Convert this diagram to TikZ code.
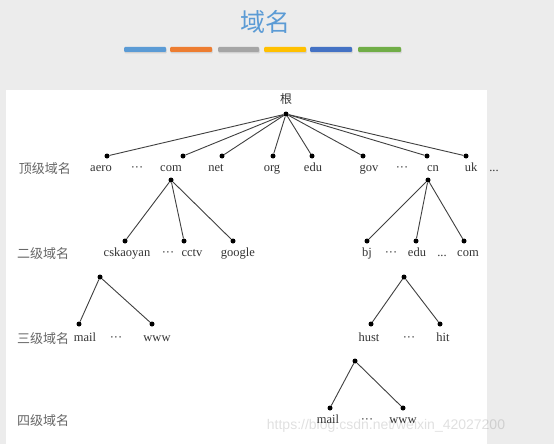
\documentclass[tikz,border=0pt]{standalone}
\usepackage{fontspec}
\setmainfont{Liberation Serif}
\newfontfamily\cjk{Noto Sans CJK SC}
\newfontfamily\wmfont{Liberation Sans}
\definecolor{tblue}{HTML}{5B9BD5}
\definecolor{borange}{HTML}{ED7D31}
\definecolor{bgray}{HTML}{A5A5A5}
\definecolor{byellow}{HTML}{FFC000}
\definecolor{bdblue}{HTML}{4472C4}
\definecolor{bgreen}{HTML}{70AD47}
\definecolor{pagebg}{HTML}{ECECEC}
\begin{document}
\begin{tikzpicture}[x=1pt,y=-1pt,
  dot/.style={circle,fill=black,inner sep=0pt,minimum size=5pt},
  lab/.style={font=\fontsize{12.5}{12.5}\selectfont, text=black!80, inner sep=0pt, text height=6.5pt, text depth=2.5pt},
  lvl/.style={font=\cjk\fontsize{13}{13}\selectfont, text=black!60, inner sep=0pt},
  edge/.style={draw=black!75, line width=0.9pt},
  bar/.style={rounded corners=1pt}]
\useasboundingbox (0,0) rectangle (554,444);
\fill[pagebg] (0,0) rectangle (554,444);
\fill[white] (6,90) rectangle (487,444);
% title
\node[font=\cjk\fontsize{25}{25}\selectfont, text=tblue, inner sep=0pt] (title) at (265,22) {域名};
\foreach \a/\b in {124/166,170/212,218/259,264/306,310/352,358/401}
  \fill[bar, black!18] (\a+0.5,48.5) rectangle (\b+0.5,53.5);
\fill[bar, tblue]   (124,47) rectangle (166,52);
\fill[bar, borange] (170,47) rectangle (212,52);
\fill[bar, bgray]   (218,47) rectangle (259,52);
\fill[bar, byellow] (264,47) rectangle (306,52);
\fill[bar, bdblue]  (310,47) rectangle (352,52);
\fill[bar, bgreen]  (358,47) rectangle (401,52);
% level labels
\node[lvl] (l1) at (45,169) {顶级域名};
\node[lvl] (l2) at (43,254) {二级域名};
\node[lvl] (l3) at (43,339) {三级域名};
\node[lvl] (l4) at (43,421) {四级域名};
% root
\node[font=\cjk\fontsize{12}{12}\selectfont, text=black!80, inner sep=0pt] (rootl) at (286,99) {根};
\node[dot] (root) at (286,114) {};
% top level dots
\node[dot] (aero) at (107,156) {};
\node[dot] (com) at (183,156) {};
\node[dot] (net) at (222,156) {};
\node[dot] (org) at (273,156) {};
\node[dot] (edu) at (312,156) {};
\node[dot] (gov) at (363,156) {};
\node[dot] (cn) at (427,156) {};
\node[dot] (uk) at (466,156) {};
% top level labels
\node[lab] (aerol) at (101,169) {aero};
\node[lab] (d1) at (137,169) {\textperiodcentered\textperiodcentered\textperiodcentered};
\node[lab] (coml) at (171,169) {com};
\node[lab] (netl) at (216,169) {net};
\node[lab] (orgl) at (272,169) {org};
\node[lab] (edul) at (313,169) {edu};
\node[lab] (govl) at (369,169) {gov};
\node[lab] (d2) at (402,169) {\textperiodcentered\textperiodcentered\textperiodcentered};
\node[lab] (cnl) at (433,169) {cn};
\node[lab] (ukl) at (471,169) {uk};
\node[lab] (d3) at (494,169) {...};
\foreach \n in {aero,com,net,org,edu,gov,cn,uk} \draw[edge] (root) -- (\n);
% second level
\node[dot] (comc) at (171,180) {};
\node[dot] (cnc) at (428,180) {};
\node[dot] (csk) at (125,241) {};
\node[dot] (cctv) at (184,241) {};
\node[dot] (goog) at (233,241) {};
\node[dot] (bj) at (367,241) {};
\node[dot] (edu2) at (416,241) {};
\node[dot] (com2) at (464,241) {};
\foreach \n in {csk,cctv,goog} \draw[edge] (comc) -- (\n);
\foreach \n in {bj,edu2,com2} \draw[edge] (cnc) -- (\n);
\node[lab] (cskl) at (127,254) {cskaoyan};
\node[lab] (d4) at (168,254) {\textperiodcentered\textperiodcentered\textperiodcentered};
\node[lab] (cctvl) at (192,254) {cctv};
\node[lab] (googl) at (238,254) {google};
\node[lab] (bjl) at (367,254) {bj};
\node[lab] (d5) at (391,254) {\textperiodcentered\textperiodcentered\textperiodcentered};
\node[lab] (edu2l) at (417,254) {edu};
\node[lab] (d6) at (442,254) {...};
\node[lab] (com2l) at (468,254) {com};
% third level
\node[dot] (cskc) at (100,277) {};
\node[dot] (edu2c) at (404,277) {};
\node[dot] (mail) at (79,324) {};
\node[dot] (www) at (152,324) {};
\node[dot] (hust) at (371,324) {};
\node[dot] (hit) at (440,324) {};
\foreach \n in {mail,www} \draw[edge] (cskc) -- (\n);
\foreach \n in {hust,hit} \draw[edge] (edu2c) -- (\n);
\node[lab] (maill) at (85,339) {mail};
\node[lab] (d7) at (116,339) {\textperiodcentered\textperiodcentered\textperiodcentered};
\node[lab] (wwwl) at (157,339) {www};
\node[lab] (hustl) at (369,339) {hust};
\node[lab] (d8) at (409,339) {\textperiodcentered\textperiodcentered\textperiodcentered};
\node[lab] (hitl) at (443,339) {hit};
% fourth level
\node[dot] (hustc) at (355,361) {};
\node[dot] (mail4) at (330,408) {};
\node[dot] (www4) at (403,408) {};
\foreach \n in {mail4,www4} \draw[edge] (hustc) -- (\n);
\node[lab] (mail4l) at (328,421) {mail};
\node[lab] (d9) at (367,421) {\textperiodcentered\textperiodcentered\textperiodcentered};
\node[lab] (www4l) at (403,421) {www};
% watermark
\node[font=\wmfont\fontsize{14}{14}\selectfont, text=black, opacity=0.12, inner sep=0pt] (wm) at (386,426) {https://blog.csdn.net/weixin\_42027200};
\end{tikzpicture}
\end{document}
